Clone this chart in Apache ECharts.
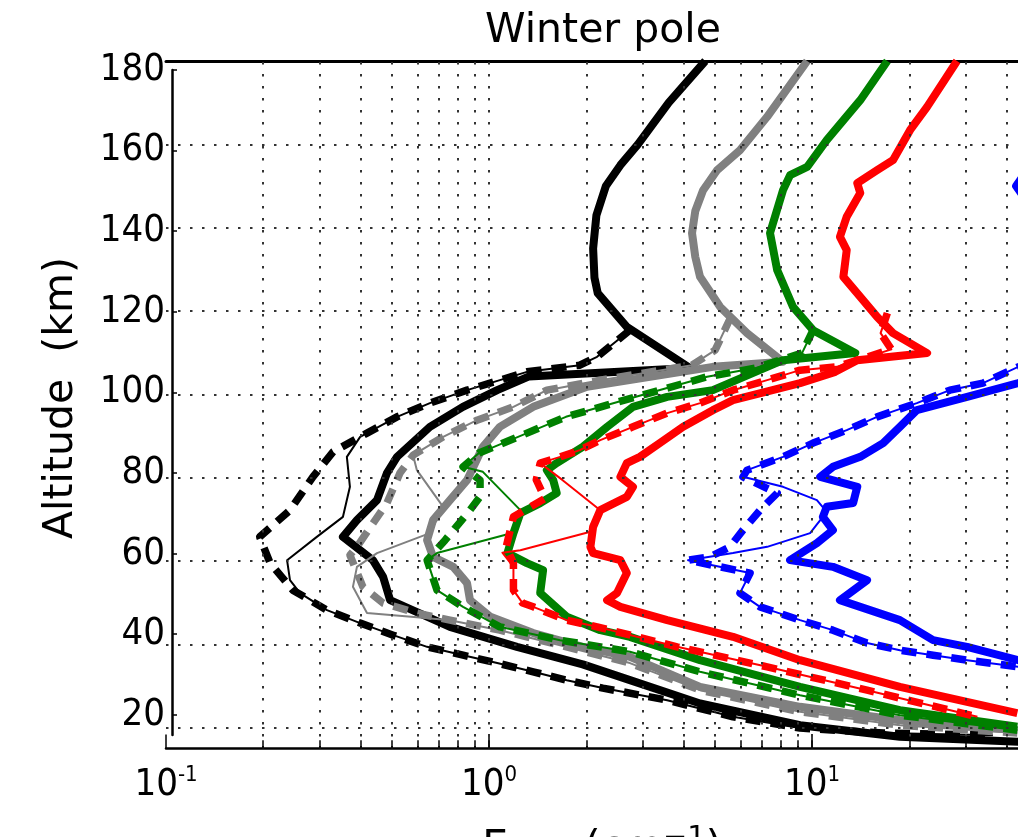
<!DOCTYPE html>
<html><head><meta charset="utf-8">
<script src="https://cdn.jsdelivr.net/npm/echarts@6/dist/echarts.min.js"></script>
<style>html,body{margin:0;padding:0;background:#fff}#c{width:1018px;height:837px}</style>
</head><body><div id="c"></div>
<script>
// ---------- axis / tick data ----------
const yTickLabels = [20, 40, 60, 80, 100, 120, 140, 160, 180];
const yGridValues = [20, 40, 60, 80, 100, 120, 140, 160];
const xGridValues = [0.2,0.3,0.4,0.5,0.6,0.7,0.8,0.9,1,2,3,4,5,6,7,8,9,10,20,30,40];
const xTickExponents = [-1, 0, 1];

// ---------- curves: [x, altitude km] ----------
const blackSolid = [[4.67,180],[3.6,170],[2.89,160],[2.55,155],[2.3,150],[2.15,143],[2.10,135],[2.12,128],[2.17,124.3],[2.67,116.2],[4.19,106.3],[1.33,104.3],[1.06,101],[0.83,97],[0.656,92.2],[0.519,85],[0.483,81.1],[0.45,74.6],[0.39,69.8],[0.353,65.8],[0.437,60.2],[0.47,56.2],[0.494,50.6],[0.757,44.2],[1.22,39.4],[1.95,35.2],[2.73,31.4],[4.5,25.8],[9.18,20.6],[18.7,17.8],[43.5,16.6]];
const blackDashed = [[2.73,115.4],[2.16,109],[1.91,107],[1.31,105.4],[0.855,101],[0.656,97.9],[0.519,94.6],[0.419,90.7],[0.329,86.2],[0.285,80.2],[0.242,72.2],[0.195,65.8],[0.21,59.5],[0.247,53],[0.315,48.2],[0.399,45.1],[0.505,42.2],[0.643,39.4],[0.831,37.4],[1.06,35.5],[1.37,33.4],[1.74,31.4],[2.25,29.5],[3.56,26.6],[5.69,22.6],[9.18,19.9],[16.6,18.7],[36.3,18.2]];
const blackThin = [[2.73,115.4],[2.16,109],[1.91,107],[1.31,105.4],[0.855,101],[0.656,97.9],[0.519,94.6],[0.419,90.7],[0.399,89.8],[0.363,85],[0.371,77.8],[0.353,70.6],[0.293,65.8],[0.237,60.2],[0.242,55.4],[0.26,52.3],[0.315,48.2],[0.399,45.1],[0.505,42.2],[0.643,39.4],[0.831,37.4],[1.06,35.5],[1.37,33.4],[1.74,31.4],[2.25,29.5],[3.56,26.6],[5.69,22.6],[9.18,19.9],[16.6,18.7],[36.3,18.2]];

const graySolid = [[9.66,180],[7.26,166.6],[5.98,158.6],[5.08,153.8],[4.60,149],[4.35,144],[4.25,138.7],[4.35,133],[4.50,128.2],[5.19,121],[6.29,114.7],[8.13,107.8],[4.93,106.6],[2.01,101.8],[1.37,97],[1.08,92.2],[0.957,87.4],[0.855,79.4],[0.757,74.6],[0.671,69.8],[0.643,65],[0.671,61],[0.775,58.6],[0.855,54.7],[0.873,50.6],[1.01,46.6],[1.37,42.7],[1.95,39.4],[2.73,37],[4.5,29.8],[9.18,25],[18.7,21.8],[43.2,19.4]];
const grayDashed = [[5.6,118.5],[5.01,110.6],[4.25,107],[2.21,103.4],[1.51,101],[1.19,97],[0.918,93.8],[0.721,89.8],[0.582,85.4],[0.53,81.1],[0.483,73.9],[0.39,63.4],[0.371,61.4],[0.407,53.8],[0.47,49.9],[0.598,47.5],[0.757,45.8],[1.08,43.4],[1.66,39.8],[2.73,35.5],[4.5,29],[9.18,23.8],[18.7,20.6],[43.2,18.7]];
const grayThin = [[5.6,118.5],[5.01,110.6],[4.25,107],[2.21,103.4],[1.51,101],[1.19,97],[0.918,93.8],[0.721,89.8],[0.582,85.4],[0.598,81.8],[0.721,73],[0.656,66.7],[0.45,61.9],[0.39,58.6],[0.379,53.8],[0.419,47.5],[0.598,46.5],[0.757,45.8],[1.08,43.4],[1.66,39.8],[2.73,35.5],[4.5,29],[9.18,23.8],[18.7,20.6],[43.2,18.7]];

const greenSolid = [[17.1,180],[14.1,170.6],[11.1,161],[9.66,154.6],[8.55,152.6],[8.13,149],[7.41,138.7],[7.80,129.8],[8.73,121],[10.07,115.4],[13.6,109.9],[8.13,108.2],[4.93,101],[3.56,99.4],[2.79,97],[2.32,92.2],[1.95,87.4],[1.62,83.5],[1.51,81.8],[1.58,79.4],[1.62,76.3],[1.44,73.9],[1.25,71.5],[1.19,66.7],[1.14,61.9],[1.31,59.5],[1.47,57.8],[1.44,52.3],[1.74,46.6],[2.21,43.4],[2.73,41.8],[4.5,36.2],[9.18,29.8],[18.7,24.2],[43.2,20.2]];
const greenDashed = [[10.07,115.4],[9.31,109.9],[6.67,106.3],[4.73,104.2],[2.85,99.4],[1.73,94.6],[1.23,89.8],[0.931,85.9],[0.831,82.6],[0.938,79.4],[0.938,75.4],[0.873,72.2],[0.731,65],[0.643,60.2],[0.69,53],[0.831,49],[1.08,44.2],[1.66,41],[2.73,38.2],[4.5,33.4],[9.18,27.8],[18.7,23],[43.2,19.4]];
const greenThin = [[10.07,115.4],[9.31,109.9],[6.67,106.3],[4.73,104.2],[2.85,99.4],[1.73,94.6],[1.23,89.8],[0.931,85.9],[0.831,82.6],[0.957,81.4],[1.25,72.2],[1.18,66.7],[0.69,61.9],[0.643,60.2],[0.69,53],[0.831,49],[1.08,44.2],[1.66,41],[2.73,38.2],[4.5,33.4],[9.18,27.8],[18.7,23],[43.2,19.4]];

const redSolid = [[28.1,180],[22.7,169],[20.1,163.4],[17.8,156.2],[15.9,153.8],[13.8,150.7],[14.1,148.3],[12.8,142.6],[12.2,137.8],[12.8,134.6],[12.5,128.2],[14.1,123.4],[15.9,118.6],[17.8,114.7],[22.7,109.9],[13.8,108.2],[11.8,105.4],[9.18,102.7],[5.69,98.6],[4.93,96.2],[3.99,92.2],[3.38,88.3],[2.93,85],[2.67,83.5],[2.55,80.2],[2.79,77.8],[2.67,75.4],[2.21,72.2],[2.10,68.2],[2.06,63.4],[2.10,61.9],[2.55,60.2],[2.67,57.1],[2.49,52.3],[2.32,50.6],[2.55,49],[3.56,45.8],[5.69,41.8],[9.18,36.2],[18.7,29.8],[43.2,23.5]];
const redDashed = [[17.1,119.5],[16.3,114.7],[17.6,110.8],[11.9,106.6],[9.18,105.8],[7.26,103.4],[5.69,101],[4.5,97.9],[3.56,95.5],[2.79,92.2],[2.21,89],[1.91,86.6],[1.66,85],[1.44,83.5],[1.40,79.5],[1.49,75],[1.19,70.6],[1.13,63.4],[1.19,59.5],[1.19,53],[1.27,49.9],[1.37,49],[1.74,45.8],[2.16,44.2],[3.82,39.4],[7.26,34.6],[14.8,29],[32.5,22.6]];
const redThin = [[17.1,119.5],[16.3,114.7],[17.6,110.8],[11.9,106.6],[9.18,105.8],[7.26,103.4],[5.69,101],[4.5,97.9],[3.56,95.5],[2.79,92.2],[2.21,89],[1.91,86.6],[1.66,85],[1.44,83.5],[1.69,79.4],[2.21,72.2],[2.06,67],[1.25,62.6],[1.10,62],[1.19,58.6],[1.19,53],[1.27,49.9],[1.37,49],[1.74,45.8],[2.16,44.2],[3.82,39.4],[7.26,34.6],[14.8,29],[32.5,22.6]];

const blueSolid = [[75,180],[55,162],[42.8,150],[55,138],[70,125],[85,110],[43.5,102.7],[30.2,99.4],[21.1,96.2],[18.7,92.2],[16.6,88.3],[14.1,85],[11.6,82.6],[10.6,80.2],[13.8,77.8],[13.4,73.9],[11.1,73],[10.8,70.6],[11.6,67.4],[10.35,64.3],[8.55,60.2],[11.6,58.6],[14.8,55.4],[12.2,50.6],[18.7,45.8],[23.7,41],[30.2,39.4],[43.5,36.2],[70,32]];
const blueDashed = [[80,112],[43.5,106.6],[33.8,102.7],[26.7,101],[21.1,97.9],[15.9,94.6],[12.8,91.4],[10.07,88.3],[8.13,85],[6.29,81.8],[6.11,80.2],[7.8,76.3],[6.9,72.2],[6.11,67.4],[5.57,63.4],[4.83,61],[4.13,60.2],[6.43,57.1],[5.98,52.3],[6.9,49],[9.18,45.8],[11.6,43.4],[14.8,40.3],[18.7,38.6],[23.7,37.4],[30.2,36.2],[43.5,34.6],[70,33]];
const blueThin = [[80,112],[43.5,106.6],[33.8,102.7],[26.7,101],[21.1,97.9],[15.9,94.6],[12.8,91.4],[10.07,88.3],[8.13,85],[6.29,81.8],[6.11,80.2],[8.13,77.8],[10.35,74.6],[11.1,71.8],[9.86,66.7],[7.26,63.4],[5.69,61.9],[4.13,60.2],[6.43,57.1],[5.98,52.3],[6.9,49],[9.18,45.8],[11.6,43.4],[14.8,40.3],[18.7,38.6],[23.7,37.4],[30.2,36.2],[43.5,34.6],[70,33]];

const curveSets = [
  ['#000000', blackSolid, blackDashed, blackThin],
  ['#808080', graySolid, grayDashed, grayThin],
  ['#008000', greenSolid, greenDashed, greenThin],
  ['#ff0000', redSolid, redDashed, redThin],
  ['#0000ff', blueSolid, blueDashed, blueThin]
];

const FONT = 'DejaVu Sans';
const TICKFONT = "'DejaVu Sans Condensed', 'DejaVu Sans'";

function lineSeries(data, color, kind) {
  return {
    type: 'line', data: data, xAxisIndex: 0, yAxisIndex: 0,
    showSymbol: false, symbol: 'none', silent: true, animation: false,
    emphasis: { disabled: true }, z: 3,
    lineStyle: {
      color: color,
      width: kind === 'thin' ? 2 : (kind === 'dash' ? 7.5 : 8),
      type: kind === 'dash' ? [15, 10] : 'solid',
      cap: 'butt', join: 'round'
    }
  };
}

const series = [];
// grid lines + minor bottom ticks
series.push({
  type: 'line', data: [], xAxisIndex: 0, yAxisIndex: 0, silent: true, z: 1,
  markLine: {
    silent: true, animation: false, symbol: ['none', 'none'], label: { show: false },
    lineStyle: { color: '#333', width: 2, type: [2.5, 9.5] },
    emphasis: { disabled: true },
    data: xGridValues.map(v => ({ xAxis: v })).concat(yGridValues.map(v => ({ yAxis: v })))
  }
});
series.push({
  type: 'line', data: [], xAxisIndex: 0, yAxisIndex: 0, silent: true, z: 1,
  markLine: {
    silent: true, animation: false, symbol: ['none', 'none'], label: { show: false },
    lineStyle: { color: '#000', width: 1.5, type: 'solid' },
    emphasis: { disabled: true },
    data: xGridValues.map(v => [{ coord: [v, 15] }, { coord: [v, 17] }])
  }
});
curveSets.forEach(([c, s, d, t]) => {
  series.push(lineSeries(s, c, 'solid'));
  series.push(lineSeries(d, c, 'dash'));
  series.push(lineSeries(t, c, 'thin'));
});

const option = {
  animation: false,
  backgroundColor: '#ffffff',
  grid: [
    { left: 166, right: 0, top: 61, bottom: 88.5 },
    { left: 172, width: 1, top: 70, bottom: 102 }
  ],
  xAxis: [
    {
      type: 'log', logBase: 10, gridIndex: 0, min: 0.1, max: 43.4, position: 'bottom',
      axisLine: { show: true, onZero: false, lineStyle: { color: '#000', width: 2.5 } },
      axisTick: { show: true, inside: true, length: 14, lineStyle: { color: '#000', width: 1.5 } },
      axisLabel: {
        margin: 16, showMaxLabel: false,
        formatter: function (v) {
          const lg = Math.log10(v), e = Math.round(lg);
          if (Math.abs(lg - e) > 1e-6 || xTickExponents.indexOf(e) < 0) return '';
          return '{b|10}{s|' + (e < 0 ? '-' : '') + Math.abs(e) + '}';
        },
        rich: {
          b: { fontSize: 38, fontFamily: TICKFONT, color: '#000', lineHeight: 42 },
          s: { fontSize: 22, fontFamily: TICKFONT, color: '#000', lineHeight: 22, verticalAlign: 'top' }
        }
      },
      splitLine: { show: false }, minorTick: { show: false }
    },
    {
      type: 'log', logBase: 10, gridIndex: 0, min: 0.1, max: 43.4, position: 'top',
      axisLine: { show: true, onZero: false, lineStyle: { color: '#000', width: 3 } },
      axisTick: { show: false }, axisLabel: { show: false }, splitLine: { show: false }
    },
    { type: 'value', gridIndex: 1, min: 0, max: 1, show: false }
  ],
  yAxis: [
    { type: 'value', gridIndex: 0, min: 15, max: 180, show: false, splitLine: { show: false } },
    {
      type: 'value', gridIndex: 1, min: 15, max: 180, position: 'left',
      axisLine: { show: true, onZero: false, lineStyle: { color: '#000', width: 2.5 } },
      axisTick: { show: true, inside: true, length: 5, customValues: yTickLabels, lineStyle: { color: '#000', width: 1.5 } },
      axisLabel: { customValues: yTickLabels, margin: 7, fontSize: 38, fontFamily: TICKFONT, color: '#000' },
      splitLine: { show: false }
    }
  ],
  graphic: [
    { type: 'text', x: 603, y: 31, silent: true,
      style: { text: 'Winter pole', fontSize: 41, fontFamily: FONT, fill: '#000', align: 'center', verticalAlign: 'middle' } },
    { type: 'text', x: 61, y: 398, rotation: Math.PI / 2, silent: true,
      style: { text: 'Altitude  (km)', fontSize: 41, fontFamily: FONT, fill: '#000', align: 'center', verticalAlign: 'middle' } },
    { type: 'text', x: 602, y: 848, silent: true,
      style: {
        text: '{n|E}{sub|max}{n| (cm}{sup|\u22121}{n|)}',
        align: 'center', verticalAlign: 'middle',
        rich: {
          n: { fontSize: 41, fontFamily: FONT, fill: '#000', lineHeight: 48 },
          sub: { fontSize: 29, fontFamily: FONT, fill: '#000', lineHeight: 29, verticalAlign: 'bottom' },
          sup: { fontSize: 29, fontFamily: FONT, fill: '#000', lineHeight: 29, verticalAlign: 'top' }
        }
      } }
  ],
  series: series
};

const chart = echarts.init(document.getElementById('c'), null, { renderer: 'canvas' });
chart.setOption(option);
</script></body></html>
